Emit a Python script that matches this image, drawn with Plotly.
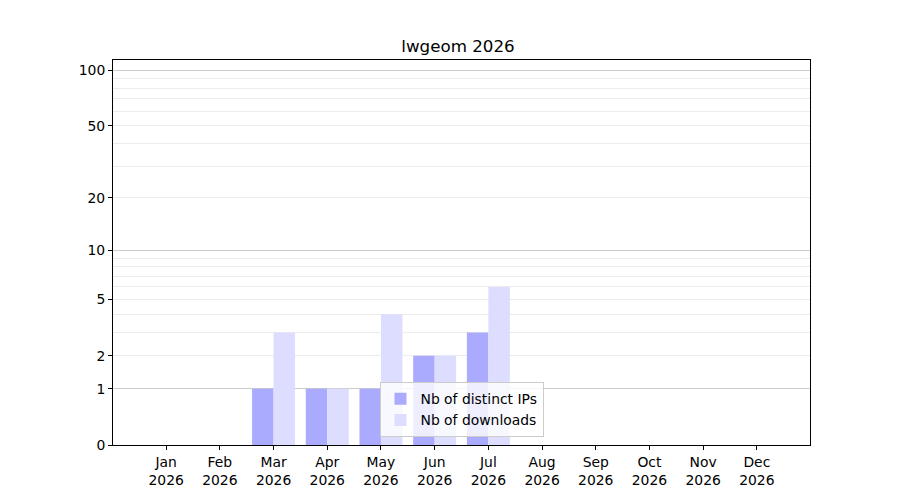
import numpy as np
import plotly.graph_objects as go

# données
mois = ["Jan", "Feb", "Mar", "Apr", "May", "Jun", "Jul", "Aug", "Sep", "Oct", "Nov", "Dec"]
annee = "2026"
nb_ips = [0, 0, 1, 1, 1, 2, 3, 0, 0, 0, 0, 0]
nb_downloads = [0, 0, 3, 1, 4, 2, 6, 0, 0, 0, 0, 0]
ticks_y = [0, 1, 2, 5, 10, 20, 50, 100]
grille_majeure = [1, 10, 100]
grille_mineure = [2, 3, 4, 5, 6, 7, 8, 9, 20, 30, 40, 50, 60, 70, 80, 90]


def symlog(v):
    # échelle log(1+x) comme sur l'original
    return np.log10(1 + np.asarray(v, dtype=float))


x = list(range(len(mois)))
labels_x = [f"{m}<br>{annee}" for m in mois]
y_max = symlog(113.5)

fig = go.Figure()

# trace invisible pour l'axe de la grille
fig.add_trace(go.Scatter(x=[0], y=[0], mode="markers", marker=dict(opacity=0),
                         showlegend=False, hoverinfo="skip", yaxis="y"))

fig.add_trace(go.Bar(x=x, y=symlog(nb_ips), name="Nb of distinct IPs",
                     marker=dict(color="#aaaaff", line=dict(width=0)), yaxis="y2"))
fig.add_trace(go.Bar(x=x, y=symlog(nb_downloads), name="Nb of downloads",
                     marker=dict(color="#ddddff", line=dict(width=0)), yaxis="y2"))

fig.update_layout(
    width=900, height=500,
    plot_bgcolor="white", paper_bgcolor="white",
    font=dict(family="DejaVu Sans", size=13.9, color="black"),
    title=dict(text="lwgeom 2026", x=0.5, xanchor="center", y=0.924, yanchor="middle",
               font=dict(size=16.7)),
    margin=dict(l=105, r=98, t=52, b=63),
    barmode="group", bargap=0.2, bargroupgap=0,
    xaxis=dict(
        tickmode="array", tickvals=x, ticktext=labels_x,
        range=[-0.99, 11.99], showgrid=False, zeroline=False,
        showline=True, linecolor="black", linewidth=1, mirror=True,
        ticks="outside", ticklen=4, tickcolor="black",
    ),
    yaxis=dict(
        range=[0, y_max], tickmode="array", tickvals=symlog(grille_majeure),
        showticklabels=False, ticks="", showgrid=True, gridcolor="#cccccc", gridwidth=1,
        zeroline=False, showline=True, linecolor="black", linewidth=1, mirror=True,
        minor=dict(tickmode="array", tickvals=symlog(grille_mineure), showgrid=True,
                   gridcolor="#ececec", gridwidth=1, ticks=""),
    ),
    yaxis2=dict(
        overlaying="y", side="left", range=[0, y_max],
        tickmode="array", tickvals=symlog(ticks_y), ticktext=[str(t) for t in ticks_y],
        showgrid=False, zeroline=False, showline=False,
        ticks="outside", ticklen=4, tickcolor="black",
    ),
    legend=dict(
        x=0.5, y=0.02, xanchor="center", yanchor="bottom",
        bgcolor="rgba(255,255,255,0.8)", bordercolor="#cccccc", borderwidth=1,
        font=dict(size=13.9),
    ),
)

fig.write_html("out.html")
